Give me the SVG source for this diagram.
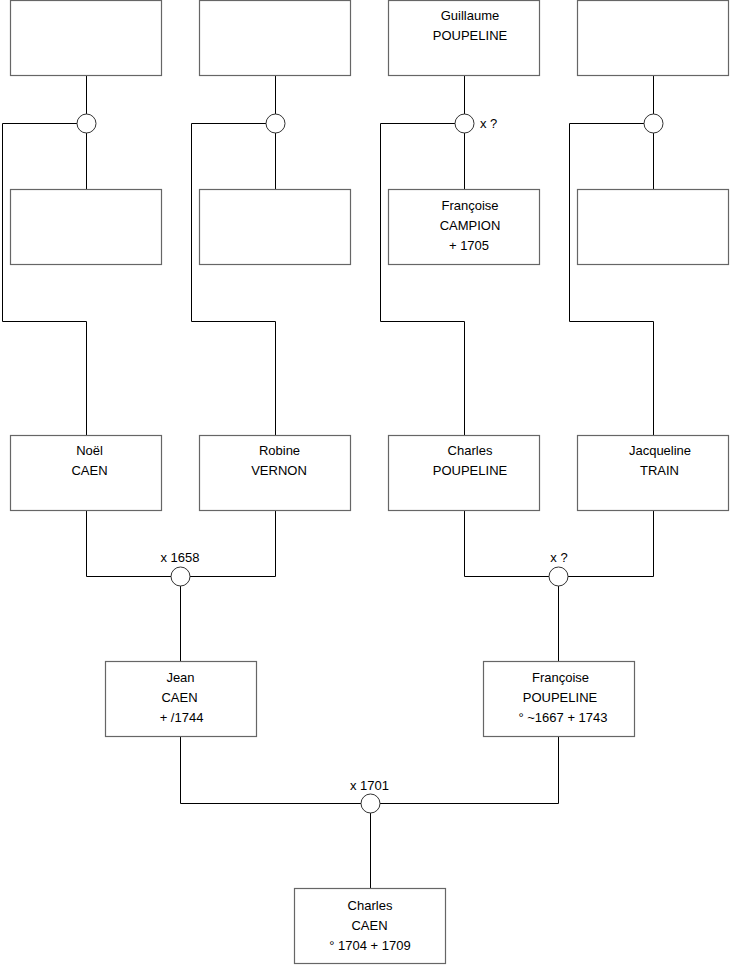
<svg xmlns="http://www.w3.org/2000/svg" width="740" height="975" viewBox="0 0 740 975">
<style>
.box{fill:#fff;stroke:#666;stroke-width:1.2}
.ln{fill:none;stroke:#000;stroke-width:1}
.mc{fill:#fff;stroke:#333;stroke-width:1}
text{font-family:"Liberation Sans",Arial,sans-serif;font-size:13px;fill:#000}
.c{text-anchor:middle}
</style>
<rect width="740" height="975" fill="#fff"/>
<g id="connectors">
<path class="ln" d="M86.5,75.5V189.5M86.5,123.5H2.5V321.5H86.5V435.5"/>
<path class="ln" d="M275.5,75.5V189.5M275.5,123.5H191.5V321.5H275.5V435.5"/>
<path class="ln" d="M464.5,75.5V189.5M464.5,123.5H380.5V321.5H464.5V435.5"/>
<path class="ln" d="M653.5,75.5V189.5M653.5,123.5H569.5V321.5H653.5V435.5"/>
<path class="ln" d="M86.5,510.5V576.5H275.5V510.5M180.5,576.5V661.5"/>
<path class="ln" d="M464.5,510.5V576.5H653.5V510.5M558.5,576.5V661.5"/>
<path class="ln" d="M180.5,736.5V803.5H558.5V736.5M370.5,803.5V888.5"/>
<circle class="mc" cx="86.5" cy="123.5" r="9.5"/>
<circle class="mc" cx="275.5" cy="123.5" r="9.5"/>
<circle class="mc" cx="464.5" cy="123.5" r="9.5"/>
<circle class="mc" cx="653.5" cy="123.5" r="9.5"/>
<circle class="mc" cx="180.5" cy="576.5" r="9.5"/>
<circle class="mc" cx="558.5" cy="576.5" r="9.5"/>
<circle class="mc" cx="370.5" cy="803.5" r="9.5"/>
<text x="480" y="128">x ?</text>
<text class="c" x="180" y="562">x 1658</text>
<text class="c" x="559" y="562">x ?</text>
<text class="c" x="369.5" y="790">x 1701</text>
</g>
<g id="n1"><rect class="box" x="10.5" y="0.5" width="151" height="75"/></g>
<g id="n2"><rect class="box" x="199.5" y="0.5" width="151" height="75"/></g>
<g id="n3"><rect class="box" x="388.5" y="0.5" width="151" height="75"/>
<text class="c" x="470" y="20">Guillaume</text><text class="c" x="470" y="40">POUPELINE</text></g>
<g id="n4"><rect class="box" x="577.5" y="0.5" width="151" height="75"/></g>
<g id="n5"><rect class="box" x="10.5" y="189.5" width="151" height="75"/></g>
<g id="n6"><rect class="box" x="199.5" y="189.5" width="151" height="75"/></g>
<g id="n7"><rect class="box" x="388.5" y="189.5" width="151" height="75"/>
<text class="c" x="470" y="210">Françoise</text><text class="c" x="470" y="230">CAMPION</text><text class="c" x="469" y="250">+ 1705</text></g>
<g id="n8"><rect class="box" x="577.5" y="189.5" width="151" height="75"/></g>
<g id="n9"><rect class="box" x="10.5" y="435.5" width="151" height="75"/>
<text class="c" x="89.5" y="455">Noël</text><text class="c" x="89.5" y="475">CAEN</text></g>
<g id="n10"><rect class="box" x="199.5" y="435.5" width="151" height="75"/>
<text class="c" x="279.5" y="455">Robine</text><text class="c" x="279" y="475">VERNON</text></g>
<g id="n11"><rect class="box" x="388.5" y="435.5" width="151" height="75"/>
<text class="c" x="470" y="455">Charles</text><text class="c" x="470" y="475">POUPELINE</text></g>
<g id="n12"><rect class="box" x="577.5" y="435.5" width="151" height="75"/>
<text class="c" x="660" y="455">Jacqueline</text><text class="c" x="659.5" y="475">TRAIN</text></g>
<g id="n13"><rect class="box" x="105.5" y="661.5" width="151" height="75"/>
<text class="c" x="180.5" y="682">Jean</text><text class="c" x="179.5" y="702">CAEN</text><text class="c" x="181.5" y="722">+ /1744</text></g>
<g id="n14"><rect class="box" x="483.5" y="661.5" width="151" height="75"/>
<text class="c" x="560.5" y="682">Françoise</text><text class="c" x="560" y="702">POUPELINE</text><text class="c" x="563" y="722">° ~1667 + 1743</text></g>
<g id="n15"><rect class="box" x="294.5" y="888.5" width="151" height="75"/>
<text class="c" x="370" y="910">Charles</text><text class="c" x="369.5" y="930">CAEN</text><text class="c" x="370" y="950">° 1704 + 1709</text></g>
</svg>
